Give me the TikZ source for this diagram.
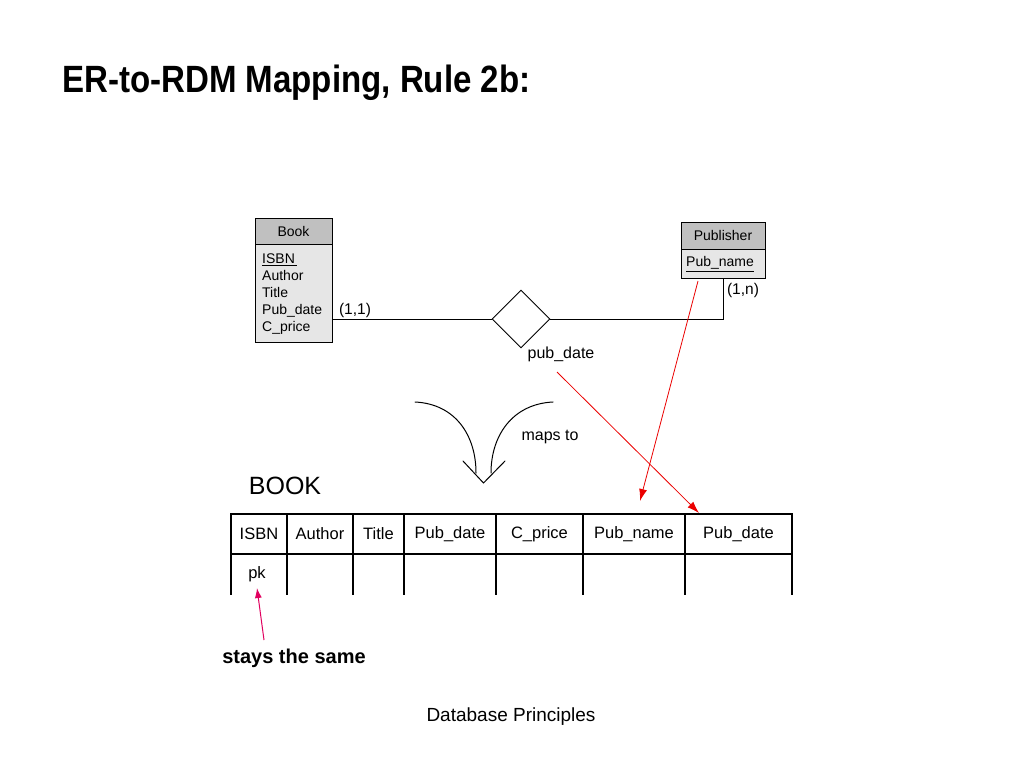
\documentclass[tikz,border=0pt]{standalone}
\usepackage{fontspec}
\setmainfont{Liberation Sans}
\newfontfamily\titlefont[FakeStretch=0.87]{Liberation Sans}
\usetikzlibrary{shapes.geometric,arrows.meta}
\definecolor{hdrgray}{RGB}{192,192,192}
\definecolor{bodygray}{RGB}{230,230,230}
\definecolor{arrred}{RGB}{235,0,0}
\definecolor{pinkred}{RGB}{225,0,95}
\tikzset{
  fs/.style={font=\fontsize{#1}{#1}\selectfont},
  erhdr/.style={draw, fill=hdrgray, inner sep=0, line width=0.9pt, fs=14},
  erbody/.style={draw, fill=bodygray, inner sep=0, line width=0.9pt},
  lbl/.style={inner sep=0, fs=15.5},
  cell/.style={draw, line width=1.1pt, minimum height=40, inner sep=0, outer sep=0, fs=16.5},
  redarr/.style={draw=arrred, line width=0.8pt, -{Latex[length=12,width=8]}},
  pinkarr/.style={draw=pinkred, line width=1pt, -{Latex[length=10,width=7]}},
  bentarr/.style={line width=1pt, line cap=round},
}
\begin{document}
\begin{tikzpicture}[x=1pt, y=-1pt]
\useasboundingbox[fill=white] (0,0) rectangle (1024,768);

% title
\node[anchor=base west, inner sep=0, font=\titlefont\fontsize{38}{38}\selectfont\bfseries] (title) at (62,92) {ER-to-RDM Mapping, Rule 2b:};

% Book entity
\node[erhdr, minimum width=77, minimum height=26] (bookh) at (293.5,231) {Book};
\node[erbody, minimum width=77, minimum height=98, anchor=north] (bookb) at (bookh.south) {};
\node[anchor=north west, align=left, inner sep=0, font=\fontsize{14}{17}\selectfont] (bookattr) at (262,253.5) {\underline{ISBN\,}\\Author\\Title\\Pub\_date\\C\_price};

% Publisher entity
\node[erhdr, minimum width=84, minimum height=27] (pubh) at (723,235.5) {Publisher};
\node[erbody, minimum width=84, minimum height=29, anchor=north] (pubb) at (pubh.south) {};
\node[anchor=west, inner sep=0, fs=14] (pubattr) at (686,264) {\underline{Pub\_name}};

% relationship
\node[draw, diamond, minimum width=58, minimum height=58, inner sep=0, line width=0.9pt] (rel) at (521,319) {};
\draw[line width=0.9pt] (rel.west) -- (rel.west -| bookb.east);
\draw[line width=0.9pt] (rel.east) -| (pubb.south);

\node[lbl] (card1) at (355,310) {(1,1)};
\node[lbl] (cardn) at (743,290) {(1,n)};
\node[inner sep=0, fs=16] (pdlabel) at (561,354) {pub\_date};

% maps-to arrows
\coordinate (lc1) at (415,402);
\coordinate (lc2) at (476,473);
\coordinate (rc1) at (553,402);
\coordinate (rc2) at (491,473);
\coordinate (va) at (463,461);
\coordinate (vb) at (483.5,483);
\coordinate (vc) at (505,461);
\draw[bentarr] (lc1) .. controls (456,404) and (476,436) .. (lc2);
\draw[bentarr] (rc1) .. controls (512,404) and (491,436) .. (rc2);
\draw[bentarr] (va) -- (vb) -- (vc);
\node[inner sep=0, fs=16] (mapsto) at (550,437) {maps to};

% relation table
\node[inner sep=0, fs=25] (booktitle) at (285,486) {BOOK};
\node[cell, minimum width=56, anchor=west] (c1) at (231,534) {ISBN};
\node[cell, minimum width=66, anchor=west] (c2) at (c1.east) {Author};
\node[cell, minimum width=51, anchor=west] (c3) at (c2.east) {Title};
\node[cell, minimum width=92, anchor=west] (c4) at (c3.east) {Pub\_date};
\node[cell, minimum width=87, anchor=west] (c5) at (c4.east) {C\_price};
\node[cell, minimum width=102, anchor=west] (c6) at (c5.east) {Pub\_name};
\node[cell, minimum width=107, anchor=west] (c7) at (c6.east) {Pub\_date};
\foreach \c in {c1,c2,c3,c4,c5,c6,c7}{
  \draw[line width=1.1pt] (\c.south west) -- ++(0,41);
}
\draw[line width=1.1pt] (c7.south east) -- ++(0,41);
\node[inner sep=0, fs=16.5] (pk) at (257,574) {pk};

% red mapping arrows
\coordinate (r1s) at (557,372);
\coordinate (r1e) at (699,513);
\coordinate (r2s) at (698,281);
\coordinate (r2e) at (640,501);
\draw[redarr] (r1s) -- (r1e);
\draw[redarr] (r2s) -- (r2e);

% stays the same
\node[inner sep=0, font=\fontsize{20}{20}\selectfont\bfseries] (stays) at (294,658) {stays the same};
\coordinate (ps) at (264,640);
\coordinate (pe) at (257,588);
\draw[pinkarr] (ps) -- (pe);

% footer
\node[inner sep=0, fs=19] (footer) at (511,717) {Database Principles};
\end{tikzpicture}
\end{document}
